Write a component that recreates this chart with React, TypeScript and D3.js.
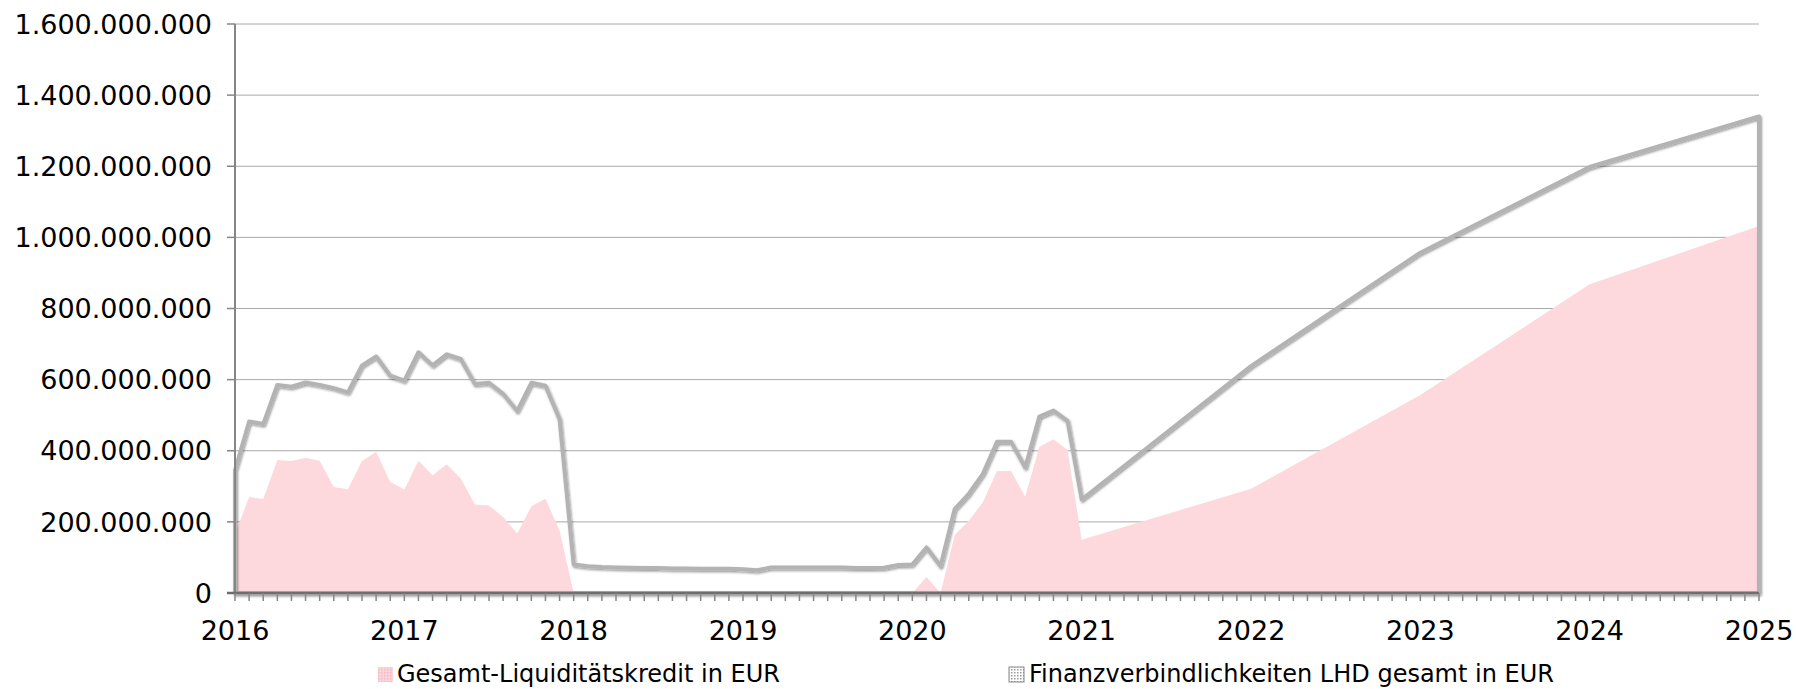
import React from "react";
import * as d3 from "d3";

// x categories: monthly 2016-01 .. 2021-01, then yearly points
const months = [
  "2016-01", "2016-02", "2016-03", "2016-04", "2016-05", "2016-06", "2016-07", "2016-08", "2016-09", "2016-10", "2016-11", "2016-12",
  "2017-01", "2017-02", "2017-03", "2017-04", "2017-05", "2017-06", "2017-07", "2017-08", "2017-09", "2017-10", "2017-11", "2017-12",
  "2018-01", "2018-02", "2018-03", "2018-04", "2018-05", "2018-06", "2018-07", "2018-08", "2018-09", "2018-10", "2018-11", "2018-12",
  "2019-01", "2019-02", "2019-03", "2019-04", "2019-05", "2019-06", "2019-07", "2019-08", "2019-09", "2019-10", "2019-11", "2019-12",
  "2020-01", "2020-02", "2020-03", "2020-04", "2020-05", "2020-06", "2020-07", "2020-08", "2020-09", "2020-10", "2020-11", "2020-12",
  "2021-01", "2022-01", "2023-01", "2024-01", "2025-01",
];

// values in million EUR
const liquiditaetskredit = [
  165, 270, 264, 374, 371, 380, 372, 298, 292, 371, 397, 312,
  291, 372, 331, 362, 322, 249, 246, 214, 167, 244, 265, 176,
  0, 0, 0, 0, 0, 0, 0, 0, 0, 0, 0, 0,
  0, 0, 0, 0, 0, 0, 0, 0, 0, 0, 0, 0,
  0, 45, 0, 163, 203, 255, 343, 343, 271, 411, 432, 402,
  150, 293, 557, 868, 1032,
];

const finanzverbindlichkeiten = [
  345, 482, 475, 585, 580, 592, 585, 576, 564, 640, 665, 611,
  597, 677, 640, 671, 658, 588, 591, 560, 512, 591, 583, 489,
  80, 75, 73, 72, 71, 70, 70, 69, 69, 68, 68, 68,
  67, 64, 72, 72, 72, 72, 72, 72, 70, 70, 71, 79,
  80, 128, 76, 236, 279, 335, 425, 425, 353, 496, 513, 484,
  263, 638, 957, 1198, 1340,
];

const yTicks = [0, 200, 400, 600, 800, 1000, 1200, 1400, 1600];
const yearLabels = ["2016", "2017", "2018", "2019", "2020", "2021", "2022", "2023", "2024", "2025"];
const legendNames = ["Gesamt-Liquiditätskredit in EUR", "Finanzverbindlichkeiten LHD gesamt in EUR"];

const W = 1796;
const H = 689;
const margin = { left: 235, right: 37, top: 24, bottom: 96 };

// month index since Jan 2016
const monthIndex = (s: string) => {
  const [yy, mm] = s.split("-").map(Number);
  return (yy - 2016) * 12 + (mm - 1);
};

const locale = d3.formatLocale({ decimal: ",", thousands: ".", grouping: [3], currency: ["", "€"] });
const fmt = locale.format(",.0f");

export default function App() {
  const x = d3.scaleLinear().domain([0, 108]).range([margin.left, W - margin.right]);
  const y = d3.scaleLinear().domain([0, 1600]).range([H - margin.bottom, margin.top]);

  const idx = months.map(monthIndex);

  const area = d3
    .area<number>()
    .x((_, i) => x(idx[i]))
    .y0(y(0))
    .y1((d) => y(d));

  const monthTicks = d3.range(0, 109);
  const font = "'DejaVu Sans', Verdana, sans-serif";

  return (
    <div style={{ position: "fixed", left: 0, top: 0 }}>
      <svg width={W} height={H} style={{ display: "block", background: "#fff" }}>
        <defs>
          <filter id="shadow" x="-5%" y="-5%" width="110%" height="110%">
            <feDropShadow dx="1" dy="1.5" stdDeviation="1" floodColor="#000" floodOpacity="0.4" />
          </filter>
          <pattern id="dots" width="3" height="3" patternUnits="userSpaceOnUse">
            <rect width="3" height="3" fill="#fff" />
            <rect width="1.5" height="1.5" fill="#999" />
          </pattern>
          <pattern id="pinkdots" width="3" height="3" patternUnits="userSpaceOnUse">
            <rect width="3" height="3" fill="#fbd3da" />
            <rect width="1.5" height="1.5" fill="#f5b8c3" />
          </pattern>
        </defs>

        {/* gridlines */}
        <g>
          {yTicks.map((t) => (
            <line key={t} x1={x(0)} x2={x(108)} y1={y(t)} y2={y(t)} stroke="#a8a8a8" strokeWidth={1} />
          ))}
        </g>

        {/* pink area */}
        <path d={area(liquiditaetskredit) || ""} fill="#fdd9de" stroke="none" />

        {/* grey area, outline only */}
        <path
          d={area(finanzverbindlichkeiten) || ""}
          fill="none"
          stroke="#b3b3b3"
          strokeWidth={4}
          strokeLinejoin="round"
          filter="url(#shadow)"
        />

        {/* y axis */}
        <line x1={x(0)} x2={x(0)} y1={y(1600)} y2={y(0)} stroke="#868686" strokeWidth={2} />
        {yTicks.map((t) => (
          <g key={t}>
            <line x1={x(0) - 8} x2={x(0)} y1={y(t)} y2={y(t)} stroke="#868686" strokeWidth={1.5} />
            <text x={212} y={y(t)} dy="0.36em" textAnchor="end" fontFamily={font} fontSize={27} fill="#000">
              {t === 0 ? "0" : fmt(t * 1e6)}
            </text>
          </g>
        ))}

        {/* x axis */}
        <line x1={x(0) - 8} x2={x(108)} y1={y(0)} y2={y(0)} stroke="#6e6e6e" strokeWidth={2.5} />
        {monthTicks.map((m) => (
          <line key={m} x1={x(m)} x2={x(m)} y1={y(0)} y2={y(0) + 8} stroke="#868686" strokeWidth={1.5} />
        ))}
        {yearLabels.map((lbl, i) => (
          <text key={lbl} x={x(i * 12)} y={640} textAnchor="middle" fontFamily={font} fontSize={27} fill="#000">
            {lbl}
          </text>
        ))}

        {/* legend */}
        <g fontFamily={font} fontSize={24} fill="#000">
          <rect x={378} y={667} width={15} height={15} fill="url(#pinkdots)" />
          <text x={397} y={682}>{legendNames[0]}</text>
          <rect x={1009} y={667} width={15} height={15} fill="url(#dots)" stroke="#888" strokeWidth={1} />
          <text x={1029} y={682}>{legendNames[1]}</text>
        </g>
      </svg>
    </div>
  );
}
